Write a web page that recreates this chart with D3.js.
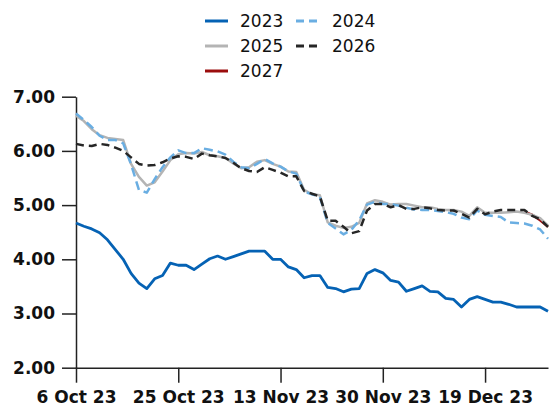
<!DOCTYPE html>
<html>
<head>
<meta charset="utf-8">
<script src="https://cdn.jsdelivr.net/npm/d3@7"></script>
<style>
  body { margin: 0; background: #fff; }
  svg text { font-family: "DejaVu Sans", Verdana, sans-serif; }
</style>
</head>
<body>
<div id="chart"></div>
<script>
// business days on the x axis
var dates = ["6 Oct 23","9 Oct 23","10 Oct 23","11 Oct 23","12 Oct 23","13 Oct 23",
  "16 Oct 23","17 Oct 23","18 Oct 23","19 Oct 23","20 Oct 23",
  "23 Oct 23","24 Oct 23","25 Oct 23","26 Oct 23","27 Oct 23",
  "30 Oct 23","31 Oct 23","1 Nov 23","2 Nov 23","3 Nov 23",
  "6 Nov 23","7 Nov 23","8 Nov 23","9 Nov 23","10 Nov 23",
  "13 Nov 23","14 Nov 23","15 Nov 23","16 Nov 23","17 Nov 23",
  "20 Nov 23","21 Nov 23","22 Nov 23","23 Nov 23","24 Nov 23",
  "27 Nov 23","28 Nov 23","29 Nov 23","30 Nov 23","1 Dec 23",
  "4 Dec 23","5 Dec 23","6 Dec 23","7 Dec 23","8 Dec 23",
  "11 Dec 23","12 Dec 23","13 Dec 23","14 Dec 23","15 Dec 23",
  "18 Dec 23","19 Dec 23","20 Dec 23","21 Dec 23","22 Dec 23",
  "25 Dec 23","26 Dec 23","27 Dec 23","28 Dec 23","29 Dec 23"];

var xTicks = ["6 Oct 23","25 Oct 23","13 Nov 23","30 Nov 23","19 Dec 23"];
var yTicks = [2, 3, 4, 5, 6, 7];

var s2023 = [4.67,4.61,4.56,4.49,4.36,4.18,4.00,3.74,3.56,3.46,3.64,3.70,3.93,3.89,3.89,3.81,
  3.91,4.01,4.06,4.00,4.05,4.10,4.15,4.15,4.15,4.00,4.00,3.86,3.81,3.66,3.70,
  3.70,3.48,3.46,3.40,3.45,3.46,3.74,3.81,3.75,3.61,3.58,3.41,3.46,3.51,3.41,
  3.40,3.28,3.26,3.12,3.26,3.31,3.26,3.21,3.21,3.17,3.12,3.12,3.12,3.12,3.04];

var s2024 = [6.69,6.57,6.44,6.28,6.20,6.20,6.14,5.75,5.28,5.23,5.48,5.70,5.88,6.01,5.96,5.96,
  6.05,6.02,5.99,5.93,5.80,5.70,5.68,5.76,5.85,5.77,5.71,5.62,5.58,5.25,5.20,
  5.15,4.67,4.57,4.46,4.54,4.72,5.01,5.06,5.02,5.02,4.99,4.95,4.92,4.91,4.91,
  4.89,4.87,4.84,4.77,4.74,4.90,4.82,4.80,4.78,4.68,4.67,4.66,4.62,4.55,4.38];

var s2025 = [6.65,6.55,6.40,6.29,6.24,6.22,6.20,5.76,5.52,5.36,5.42,5.62,5.83,5.94,5.96,5.95,
  5.98,5.92,5.90,5.87,5.77,5.68,5.70,5.80,5.83,5.76,5.71,5.62,5.61,5.28,5.20,
  5.18,4.68,4.62,4.58,4.60,4.67,5.03,5.09,5.06,5.01,5.02,5.02,4.99,4.96,4.96,
  4.93,4.91,4.91,4.88,4.80,4.96,4.86,4.86,4.86,4.87,4.88,4.86,4.82,4.76,4.62];

var s2026 = [6.13,6.10,6.09,6.13,6.11,6.06,6.00,5.88,5.76,5.73,5.74,5.79,5.86,5.90,5.89,5.85,
  5.95,5.92,5.90,5.87,5.78,5.68,5.63,5.61,5.70,5.65,5.60,5.53,5.53,5.26,5.21,
  5.16,4.71,4.71,4.60,4.48,4.52,4.90,5.02,5.02,4.96,5.00,4.93,4.93,4.96,4.94,
  4.91,4.90,4.90,4.84,4.77,4.93,4.83,4.88,4.91,4.91,4.91,4.91,4.80,4.74,4.60];

// 2027 only shows at the very end
var s2027 = dates.map(function() { return null; });
s2027[57] = 4.88; s2027[58] = 4.82; s2027[59] = 4.72; s2027[60] = 4.60;

var series = [
  { name: "2027", values: s2027, color: "#9b0d0d", dash: null, width: 2.5 },
  { name: "2025", values: s2025, color: "#b4b4b4", dash: null, width: 2.5 },
  { name: "2024", values: s2024, color: "#6aaee2", dash: "9,5", width: 2.5 },
  { name: "2026", values: s2026, color: "#262626", dash: "8,5", width: 2.5 },
  { name: "2023", values: s2023, color: "#0562b4", dash: null, width: 2.8 }
];

var legendOrder = ["2023", "2024", "2025", "2026", "2027"];

(function() {
  var width = 550, height = 409,
      mLeft = 76, mRight = 548, mTop = 96.7, mBottom = 367.7;

  var svg = d3.select("#chart").append("svg")
      .attr("width", width)
      .attr("height", height);

  var x = d3.scalePoint()
      .domain(dates)
      .range([mLeft, mRight])
      .padding(0);

  var y = d3.scaleLinear()
      .domain([2, 7])
      .range([mBottom, mTop]);

  // axes
  var yAxis = svg.append("g")
      .attr("transform", "translate(" + mLeft + ",0)")
      .call(d3.axisLeft(y).tickValues(yTicks).tickFormat(d3.format(".2f"))
        .tickSize(14).tickSizeOuter(0).tickPadding(7));

  var xAxis = svg.append("g")
      .attr("transform", "translate(0," + mBottom + ")")
      .call(d3.axisBottom(x).tickValues(xTicks).tickSize(15).tickPadding(8).tickSizeOuter(0));

  svg.selectAll(".domain, .tick line")
      .attr("stroke", "#222")
      .attr("stroke-width", 1.5);

  svg.selectAll(".tick text")
      .attr("font-family", "DejaVu Sans, Verdana, sans-serif")
      .attr("font-size", 17)
      .attr("font-weight", "bold")
      .attr("fill", "#111");

  // lines
  var line = d3.line()
      .defined(function(d) { return d.v != null; })
      .x(function(d) { return x(d.date); })
      .y(function(d) { return y(d.v); });

  svg.selectAll("path.series")
      .data(series)
    .enter().append("path")
      .attr("class", "series")
      .attr("fill", "none")
      .attr("stroke", function(d) { return d.color; })
      .attr("stroke-width", function(d) { return d.width; })
      .attr("stroke-dasharray", function(d) { return d.dash; })
      .attr("stroke-linejoin", "round")
      .attr("d", function(d) {
        return line(d.values.map(function(v, i) { return { date: dates[i], v: v }; }));
      });

  // legend, two columns
  var legend = svg.append("g");
  legendOrder.forEach(function(name, i) {
    var s = series.find(function(d) { return d.name === name; });
    var col = i % 2, row = Math.floor(i / 2);
    var lx = col === 0 ? 205 : 296, ly = 21 + row * 25;
    legend.append("line")
      .attr("x1", lx).attr("x2", lx + 23)
      .attr("y1", ly).attr("y2", ly)
      .attr("stroke", s.color)
      .attr("stroke-width", 3)
      .attr("stroke-dasharray", s.dash ? "8,5" : null);
    legend.append("text")
      .attr("x", lx + (col === 0 ? 35 : 36))
      .attr("y", ly)
      .attr("dy", "0.36em")
      .attr("font-size", 17)
      .attr("fill", "#111")
      .text(name);
  });
})();
</script>
</body>
</html>
